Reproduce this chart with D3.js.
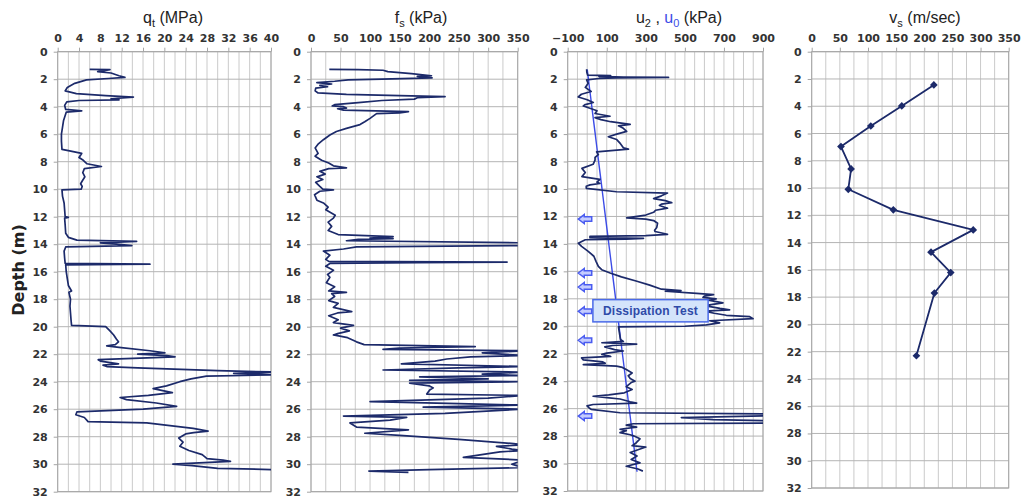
<!DOCTYPE html>
<html>
<head>
<meta charset="utf-8">
<script src="https://cdn.jsdelivr.net/npm/d3@7"></script>
<style>
  body { margin: 0; background: #fff; }
  svg { display: block; }
</style>
</head>
<body>
<svg id="chart" width="1023" height="498"></svg>
<script>
// ---- CPT sounding data: [depth (m), value] ----
const depthTicks = [0, 2, 4, 6, 8, 10, 12, 14, 16, 18, 20, 22, 24, 26, 28, 30, 32];
const qtTicks = [0, 4, 8, 12, 16, 20, 24, 28, 32, 36, 40];
const fsTicks = [0, 50, 100, 150, 200, 250, 300, 350];
const u2Ticks = [-100, 100, 300, 500, 700, 900];
const vsTicks = [0, 50, 100, 150, 200, 250, 300, 350];

// Cone tip resistance q_t (MPa)
const qtTrace = [
  [1.28,6.0],[1.3,9.8],[1.45,7.5],[1.55,10],[1.75,11.5],[1.87,12.6],[1.95,9.5],[2.05,5.4],[2.3,3.2],[2.6,1.8],
  [2.85,1.4],[3.05,3.5],[3.2,9],[3.3,14.2],[3.42,10],[3.5,11.5],[3.55,4],[3.65,1.7],[3.9,1.3],[4.2,1.5],
  [4.3,4.5],[4.4,1.6],[5.0,1.1],[5.5,0.9],[6.0,0.7],[6.5,0.7],[7.1,0.8],[7.2,2.0],[7.4,4.5],[7.7,4.0],
  [7.9,4.8],[8.15,5.5],[8.35,8.2],[8.5,5.0],[8.8,4.7],[9.1,5.1],[9.4,4.6],[9.6,4.3],[9.8,4.6],[10.0,4.4],
  [10.05,0.8],[10.5,0.9],[11,1.2],[11.5,1.3],[12,1.4],[12.05,2.0],[12.1,1.3],[12.6,1.4],[13.2,1.5],[13.5,2.0],
  [13.7,3.6],[13.8,14.8],[13.9,8],[14.0,11],[14.1,13.9],[14.2,1.5],[14.5,1.2],[15,1.3],[15.4,1.4],[15.45,17.3],
  [15.5,1.5],[16,1.6],[16.5,1.8],[17,2.0],[17.4,2.6],[17.5,2.1],[18,2.4],[18.5,2.3],[19,2.4],[19.5,2.5],
  [19.9,2.6],[20.0,9.0],[20.3,9.8],[20.6,10.5],[20.9,11.0],[21.1,11.4],[21.3,10.8],[21.4,9.2],[21.5,11.5],[21.75,17.3],
  [21.9,20.1],[22.0,15],[22.1,20.5],[22.2,22],[22.4,7.6],[22.5,8.0],[22.7,11.4],[22.8,8.5],[22.9,9.2],[23.0,15],
  [23.2,30],[23.3,41],[23.4,33],[23.5,41],[23.6,27.9],[23.8,25],[24,22.9],[24.3,20.4],[24.5,17.9],[24.8,21.5],
  [25.0,17],[25.15,11.7],[25.3,12.9],[25.55,18.5],[25.8,22.3],[26.0,16],[26.2,3.6],[26.4,3.4],[26.6,5.0],[26.9,5.7],
  [27.0,16.7],[27.4,25.4],[27.6,28.2],[27.7,25.5],[27.8,24],[28.1,22.7],[28.4,23.5],[28.7,22.9],[29.0,24.6],[29.3,27.1],
  [29.6,28],[29.7,31],[29.8,32.4],[30.0,21.6],[30.1,25.2],[30.3,30],[30.4,41]
];

// Sleeve friction f_s (kPa)
const fsTrace = [
  [1.28,31],[1.3,80],[1.35,122],[1.45,130],[1.6,170],[1.75,204],[1.8,180],[1.9,205],[2.0,120],[2.05,63],
  [2.15,40],[2.25,10],[2.35,35],[2.45,15],[2.55,28],[2.65,8],[2.85,7],[3.0,12],[3.1,60],[3.2,150],
  [3.27,227],[3.35,180],[3.45,175],[3.55,120],[3.7,80],[3.85,40],[3.95,36],[4.0,55],[4.1,60],[4.15,45],
  [4.25,55],[4.36,165],[4.45,150],[4.5,111],[4.85,100],[5.1,91],[5.3,83],[5.58,60],[5.8,43],[6.06,32],
  [6.4,21],[6.7,12.5],[7.0,7],[7.4,12],[7.6,7],[7.9,18],[8.1,30],[8.3,38],[8.45,60],[8.5,30],
  [8.7,15],[8.9,24],[9.1,10],[9.3,20],[9.5,8],[9.8,15],[10.0,20],[10.05,38],[10.15,15],[10.4,6],
  [10.8,10],[11.0,21],[11.3,29],[11.5,25],[11.9,41],[12.1,38],[12.4,29],[12.7,35],[13.0,29],[13.3,46],
  [13.45,139],[13.55,100],[13.6,139],[13.65,80],[13.75,60],[13.9,360],[14.0,360],[14.1,350],[14.2,77],[14.35,55],
  [14.5,21],[14.8,32],[15.1,25],[15.25,30],[15.3,332],[15.35,180],[15.4,32],[15.6,25],[15.9,38],[16.2,28],
  [16.4,32],[16.8,26],[17.1,40],[17.4,30],[17.5,60],[17.6,35],[17.8,40],[18.1,30],[18.3,46],[18.6,38],
  [18.9,69],[19.0,45],[19.2,30],[19.5,46],[19.7,38],[19.9,72],[20.1,50],[20.3,65],[20.5,45],[20.6,38],
  [20.8,62],[21.1,77],[21.3,90],[21.45,278],[21.55,150],[21.65,122],[21.75,360],[21.9,290],[22.1,360],[22.2,270],
  [22.35,230],[22.5,210],[22.7,153],[22.9,360],[23.0,250],[23.15,122],[23.3,360],[23.45,290],[23.55,360],[23.65,184],
  [23.8,300],[23.9,167],[24.0,360],[24.1,167],[24.3,200],[24.45,207],[24.6,201],[24.9,196],[25.0,360],[25.2,300],
  [25.45,100],[25.6,250],[25.7,360],[25.85,190],[26.0,360],[26.3,227],[26.5,55],[26.6,162],[26.8,134],[27.0,66],
  [27.3,77],[27.5,165],[27.75,91],[27.9,150],[28.2,250],[28.5,343],[28.6,360],[28.7,314],[28.9,340],[29.0,360],
  [29.1,320],[29.5,258],[29.7,360],[30.0,340],[30.25,360],[30.4,200],[30.5,98],[30.6,165]
];

// Pore pressure u_2 (kPa)
const u2Trace = [
  [1.28,-3],[1.5,-2],[1.7,2],[1.75,120],[1.8,60],[1.85,185],[1.87,416],[1.9,150],[1.95,60],[2.05,-3],
  [2.3,5],[2.6,-10],[2.9,20],[3.1,-30],[3.3,-46],[3.5,0],[3.7,31],[3.85,-10],[3.95,-20],[4.1,10],
  [4.3,50],[4.5,40],[4.7,117],[4.8,40],[4.95,70],[5.1,120],[5.3,220],[5.4,160],[5.58,185],[5.8,202],
  [6.0,151],[6.2,108],[6.4,151],[6.7,170],[7.0,185],[7.1,211],[7.3,48],[7.5,57],[7.7,40],[7.9,40],
  [8.2,30],[8.5,-27],[8.8,-10],[9.1,-27],[9.3,65],[9.5,50],[9.6,65],[9.7,14],[9.8,-5],[9.95,-5],
  [10.2,150],[10.3,411],[10.5,380],[10.7,340],[10.85,400],[11.0,433],[11.1,380],[11.2,370],[11.4,411],[11.55,350],
  [11.7,340],[11.9,300],[12.1,202],[12.2,300],[12.3,340],[12.5,360],[12.8,356],[13.0,345],[13.1,347],[13.3,411],
  [13.4,300],[13.45,14],[13.55,14],[13.6,288],[13.65,200],[13.7,-10],[13.95,-46],[14.18,-29],[14.54,5],[14.9,34],
  [15.27,45],[15.64,57],[15.88,74],[16.12,117],[16.4,175],[16.7,250],[17.0,320],[17.3,380],[17.4,480],[17.45,400],
  [17.6,560],[17.7,647],[17.8,600],[17.9,593],[18.0,660],[18.1,620],[18.3,695],[18.5,600],[18.7,680],[18.8,729],
  [18.9,600],[19.05,650],[19.2,712],[19.3,832],[19.45,849],[19.6,627],[19.75,678],[19.9,610],[20.0,500],[20.05,160],
  [20.5,165],[20.96,170],[21.1,185],[21.2,75],[21.3,253],[21.4,130],[21.5,90],[21.7,140],[21.8,185],[21.95,100],
  [22.05,75],[22.2,120],[22.3,-29],[22.45,-20],[22.6,80],[22.7,92],[22.8,-20],[22.9,150],[23.0,180],[23.15,200],
  [23.4,230],[23.6,210],[23.8,220],[24.0,245],[24.1,225],[24.4,200],[24.6,230],[24.85,190],[25.0,110],[25.1,30],
  [25.2,100],[25.3,168],[25.5,220],[25.6,253],[25.7,30],[25.8,-1],[25.95,10],[26.05,20],[26.3,168],[26.4,1000],
  [26.5,1000],[26.65,482],[26.8,645],[26.9,1000],[27.05,1000],[27.1,236],[27.2,200],[27.35,253],[27.5,168],[27.6,200],
  [27.75,168],[27.9,220],[28.0,240],[28.2,270],[28.5,250],[28.7,230],[28.8,300],[29.0,260],[29.2,220],[29.45,255],
  [29.7,225],[29.95,270],[30.2,200],[30.4,260],[30.55,285]
];

// Hydrostatic pressure u_0 (kPa)
const u0Line = [[1.3, 0], [30.6, 255]];

// Shear-wave velocity v_s (m/sec)
const vsProfile = [
  [2.44,217],[3.98,160],[5.45,105],[6.96,52],[8.6,70],[10.09,65],
  [11.6,145],[13.07,287],[14.7,212],[16.2,247],[17.7,218],[22.3,186]
];

// Depths where pore-pressure dissipation tests were run
const dissipationDepths = [12.19, 16.12, 17.14, 18.91, 21.02, 26.54];

// ---- layout ----
const svg = d3.select("#chart");
const NAVY = "#1c2a6a";
const BLUE = "#3b4be6";

const panels = [
  { id: "qt", left: 57.7, right: 271, top: 51.7, bottom: 491.7, domain: [0, 40], step: 2, ticks: qtTicks, titleX: 173, data: qtTrace },
  { id: "fs", left: 311, right: 517.7, top: 51.7, bottom: 491.7, domain: [0, 350], step: 25, ticks: fsTicks, titleX: 421, data: fsTrace },
  { id: "u2", left: 567.7, right: 763, top: 51.7, bottom: 491, domain: [-100, 900], step: 50, ticks: u2Ticks, titleX: 679, data: u2Trace },
  { id: "vs", left: 811.7, right: 1008.7, top: 51.7, bottom: 488, domain: [0, 350], step: 25, ticks: vsTicks, titleX: 925, data: vsProfile }
];

const defs = svg.append("defs");

panels.forEach(p => {
  p.x = d3.scaleLinear().domain(p.domain).range([p.left, p.right]);
  p.y = d3.scaleLinear().domain([0, 32]).range([p.top, p.bottom]);
  const g = svg.append("g").attr("class", "panel-" + p.id);
  p.g = g;

  defs.append("clipPath").attr("id", "clip-" + p.id)
    .append("rect")
    .attr("x", p.left).attr("y", p.top)
    .attr("width", p.right - p.left).attr("height", p.bottom - p.top);

  // vertical grid
  const vLines = d3.range(p.domain[0], p.domain[1] + p.step / 2, p.step);
  g.append("g").selectAll("line").data(vLines).join("line")
    .attr("x1", d => p.x(d)).attr("x2", d => p.x(d))
    .attr("y1", p.top).attr("y2", p.bottom)
    .attr("stroke", "#cacaca").attr("stroke-width", 1);

  // horizontal grid
  g.append("g").selectAll("line").data(depthTicks).join("line")
    .attr("x1", p.left).attr("x2", p.right)
    .attr("y1", d => p.y(d)).attr("y2", d => p.y(d))
    .attr("stroke", "#b4b4b4").attr("stroke-width", 1);

  // frame
  g.append("rect")
    .attr("x", p.left).attr("y", p.top)
    .attr("width", p.right - p.left).attr("height", p.bottom - p.top)
    .attr("fill", "none").attr("stroke", "#a4a4a4").attr("stroke-width", 1);

  // top axis
  const ax = g.append("g").attr("transform", `translate(0,${p.top})`)
    .call(d3.axisTop(p.x).tickValues(p.ticks).tickSize(4).tickPadding(6));
  // left axis
  const ay = g.append("g").attr("transform", `translate(${p.left},0)`)
    .call(d3.axisLeft(p.y).tickValues(depthTicks).tickSize(4).tickPadding(6));
  [ax, ay].forEach(a => {
    a.select(".domain").remove();
    a.selectAll(".tick line").attr("stroke", "#a4a4a4");
    a.selectAll(".tick text")
      .attr("fill", "#333")
      .style("font-family", "'DejaVu Sans', Verdana, sans-serif")
      .style("font-weight", "bold")
      .style("font-size", "11px");
  });
});

// ---- titles (with subscripts) ----
function title(p, parts) {
  const t = svg.append("text")
    .attr("x", p.titleX).attr("y", 23)
    .attr("text-anchor", "middle")
    .style("font-family", "'Liberation Sans', Arial, sans-serif")
    .style("font-size", "16px")
    .attr("fill", "#222");
  let shift = 0;
  parts.forEach(([txt, sub, color]) => {
    const main = t.append("tspan").text(txt).attr("fill", color || "#222");
    if (shift) { main.attr("dy", shift); shift = 0; }
    if (sub) {
      t.append("tspan").text(sub).attr("dy", 4).style("font-size", "11px").attr("fill", color || "#222");
      shift = -4;
    }
  });
}
title(panels[0], [["q", "t"], [" (MPa)"]]);
title(panels[1], [["f", "s"], [" (kPa)"]]);
title(panels[2], [["u", "2"], [" , "], ["u", "0", BLUE], [" (kPa)"]]);
title(panels[3], [["v", "s"], [" (m/sec)"]]);

// depth axis label
svg.append("text")
  .attr("transform", "translate(24,270) rotate(-90)")
  .attr("text-anchor", "middle")
  .style("font-family", "'DejaVu Sans', Verdana, sans-serif")
  .style("font-weight", "bold")
  .style("font-size", "16px")
  .attr("fill", "#222")
  .text("Depth (m)");

// ---- traces ----
panels.forEach(p => {
  const line = d3.line().x(d => p.x(d[1])).y(d => p.y(d[0]));
  if (p.id === "u2") {
    p.g.append("path").datum(u0Line)
      .attr("clip-path", `url(#clip-${p.id})`)
      .attr("d", line).attr("fill", "none")
      .attr("stroke", BLUE).attr("stroke-width", 1.4);
  }
  p.g.append("path").datum(p.data)
    .attr("clip-path", `url(#clip-${p.id})`)
    .attr("d", line).attr("fill", "none")
    .attr("stroke", NAVY).attr("stroke-width", p.id === "vs" ? 1.8 : 1.7)
    .attr("stroke-linejoin", "round");
});

// shear-wave velocity markers
const vsP = panels[3];
vsP.g.append("g").selectAll("path").data(vsProfile).join("path")
  .attr("transform", d => `translate(${vsP.x(d[1])},${vsP.y(d[0])})`)
  .attr("d", d3.symbol(d3.symbolDiamond2, 38))
  .attr("fill", NAVY);

// ---- dissipation test annotation ----
const uP = panels[2];
const tipX = uP.x(-46), tailX = uP.x(23);
uP.g.append("g").selectAll("path").data(dissipationDepths).join("path")
  .attr("d", d => {
    const yc = uP.y(d);
    const hx = tipX + 6;
    return `M${tipX},${yc} L${hx},${yc - 4.5} L${hx},${yc - 2.3} L${tailX},${yc - 2.3} ` +
           `L${tailX},${yc + 2.3} L${hx},${yc + 2.3} L${hx},${yc + 4.5} Z`;
  })
  .attr("fill", "#c4ccff").attr("stroke", "#4a5cf0").attr("stroke-width", 1.5)
  .attr("stroke-linejoin", "miter");

const boxX0 = uP.x(29), boxX1 = uP.x(619), boxY0 = uP.y(18.06), boxY1 = uP.y(19.68);
uP.g.append("rect")
  .attr("x", boxX0).attr("y", boxY0)
  .attr("width", boxX1 - boxX0).attr("height", boxY1 - boxY0)
  .attr("fill", "#d4e4fb").attr("stroke", "#4a6ae8").attr("stroke-width", 1.5);
uP.g.append("text")
  .attr("x", (boxX0 + boxX1) / 2).attr("y", (boxY0 + boxY1) / 2 + 4.5)
  .attr("text-anchor", "middle")
  .style("font-family", "'Liberation Sans', Arial, sans-serif")
  .style("font-weight", "bold")
  .style("font-size", "12px")
  .style("letter-spacing", "0.2px")
  .attr("fill", "#2e4aa8")
  .text("Dissipation Test");
</script>
</body>
</html>
